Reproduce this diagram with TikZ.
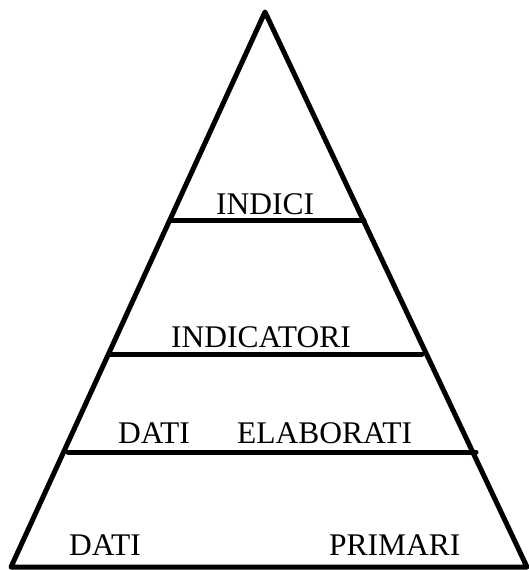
\documentclass[tikz,border=0pt]{standalone}
\usepackage{fontspec}
\setmainfont{Liberation Serif}
\begin{document}
\begin{tikzpicture}[x=1pt,y=-1pt,
  edge/.style={line width=5pt,line cap=round,line join=round},
  lab/.style={inner sep=0pt,anchor=base west,font=\fontsize{31.5}{34}\selectfont}]
\useasboundingbox (0,0) rectangle (529,570);
\coordinate (apex) at (265,12);
\coordinate (bl) at (11,567);
\coordinate (br) at (527,567);
\draw[edge] (bl) -- (apex) -- (br) -- cycle;
\coordinate (a1) at (170,220); \coordinate (b1) at (364,220);
\coordinate (a2) at (110,354); \coordinate (b2) at (422,354);
\coordinate (a3) at (68,452);  \coordinate (b3) at (476,452);
\draw[edge] (a1) -- (b1);
\draw[edge] (a2) -- (b2);
\draw[edge] (a3) -- (b3);
\node[lab] (t1) at (216,214) {INDICI};
\node[lab] (t2) at (171,347) {INDICATORI};
\node[lab] (t3) at (118,443) {DATI};
\node[lab] (t4) at (237,443) {ELABORATI};
\node[lab] (t5) at (69,555) {DATI};
\node[lab] (t6) at (329,555) {PRIMARI};
\end{tikzpicture}
\end{document}
